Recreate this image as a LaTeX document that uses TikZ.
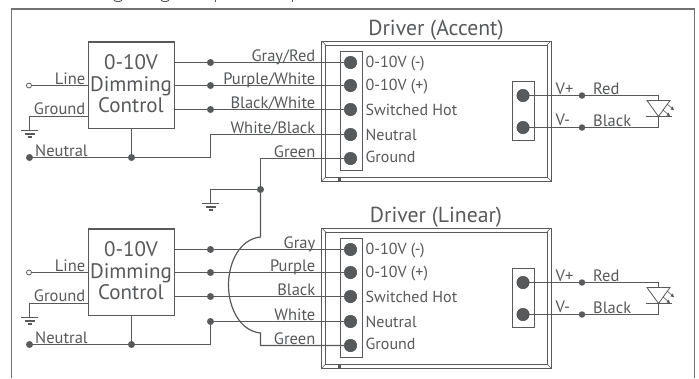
\documentclass[tikz,border=0pt]{standalone}
\usepackage{fontspec}
\setmainfont{PT Sans}
\definecolor{ink}{HTML}{58595B}
\tikzset{
  wire/.style={draw=ink,line width=1.2pt},
  framebox/.style={draw=ink!85,line width=1.4pt},
  jdot/.style={circle,fill=ink,inner sep=0pt,minimum size=7pt},
  term/.style={circle,fill=ink,draw=ink!80!black,inner sep=0pt,minimum size=12.5pt},
  opendot/.style={circle,draw=ink,fill=white,line width=.8pt,inner sep=0pt,minimum size=5pt},
  wlabel/.style={text=ink,font=\fontsize{16.5}{16.5}\selectfont,inner sep=0pt},
  dimtext/.style={text=ink,font=\fontsize{21}{21}\selectfont,inner sep=0pt},
  titletext/.style={text=ink,font=\fontsize{21.7}{21.7}\selectfont,inner sep=0pt},
  tlabel/.style={text=ink,font=\fontsize{16}{16}\selectfont,inner sep=0pt},
  boxline/.style={draw=ink,line width=1.5pt},
  thin box/.style={draw=ink,line width=.9pt},
}
\newcommand{\GroundSym}[1]{%
  \draw[wire,shift={(#1)}] (-8.5,0) -- (8.5,0) (-5,3.5) -- (5,3.5) (-2,6.5) -- (2,6.5);}
\newcommand{\DrvUnit}[7]{% prefix, title, labels 1-5
  % driver housing
  \draw[thin box] (321.7,41) rectangle (551,181);
  \draw[thin box] (325.7,45) rectangle (547,177);
  \draw[ink,line width=.5pt] (321.7,41) -- (325.7,45) (551,41) -- (547,45) (321.7,181) -- (325.7,177) (551,181) -- (547,177);
  \fill[ink] (338,178) rectangle (341,181);
  \node[titletext,anchor=base] (#1title) at (436,35.5) {#2};
  % terminal blocks
  \node[draw=ink,line width=.9pt,inner sep=0pt,minimum width=22pt,minimum height=119pt] (#1blockA) at (351,111) {};
  \node[draw=ink,line width=.9pt,inner sep=0pt,minimum width=22pt,minimum height=59.5pt] (#1blockB) at (523,111) {};
  \node[term] (#1t1) at (350.5,62.5) {};
  \node[term] (#1t2) at (350.5,85.5) {};
  \node[term] (#1t3) at (350.5,109.5) {};
  \node[term] (#1t4) at (350.5,134.5) {};
  \node[term] (#1t5) at (350.5,158.5) {};
  \node[term] (#1o1) at (523,95.5) {};
  \node[term] (#1o2) at (523,127.5) {};
  \node[tlabel,anchor=base west] (#1n1) at (365.5,67.7) {0-10V (-)};
  \node[tlabel,anchor=base west] (#1n2) at (365.5,90) {0-10V (+)};
  \node[tlabel,anchor=base west] (#1n3) at (365.5,115) {Switched Hot};
  \node[tlabel,anchor=base west] (#1n4) at (365.5,140) {Neutral};
  \node[tlabel,anchor=base west] (#1n5) at (365.5,162.7) {Ground};
  % dimming control
  \node[boxline,inner sep=0pt,minimum width=86pt,minimum height=86.5pt] (#1dim) at (131.5,85) {};
  \node[dimtext,anchor=base] (#1d1) at (131,69) {0-10V};
  \node[dimtext,anchor=base] (#1d2) at (131,91) {Dimming};
  \node[dimtext,anchor=base] (#1d3) at (131,112) {Control};
  % control wires
  \node[jdot] (#1j1) at (210.5,62.5) {};
  \node[jdot] (#1j2) at (210.5,85.5) {};
  \node[jdot] (#1j3) at (210.5,109.5) {};
  \draw[wire] (#1dim.east |- #1t1) -- (#1j1) -- (#1t1);
  \draw[wire] (#1dim.east |- #1t2) -- (#1j2) -- (#1t2);
  \draw[wire] (#1dim.east |- #1t3) -- (#1j3) -- (#1t3);
  \node[wlabel,anchor=base east] (#1w1) at (315.5,61.5) {#3};
  \node[wlabel,anchor=base east] (#1w2) at (315.5,84) {#4};
  \node[wlabel,anchor=base east] (#1w3) at (315.5,108) {#5};
  \node[wlabel,anchor=base east] (#1w4) at (315.5,133) {#6};
  \node[wlabel,anchor=base east] (#1w5) at (315.5,157) {#7};
  % line, ground, neutral
  \node[opendot] (#1line) at (29,85.5) {};
  \draw[wire] (#1line) -- (#1dim.west |- #1line);
  \node[wlabel,anchor=base east] (#1ll) at (85.5,84) {Line};
  \node[wlabel,anchor=base east] (#1lg) at (85.5,114.5) {Ground};
  \node[wlabel,anchor=base west] (#1ln) at (35,156) {Neutral};
  \coordinate (#1gtop) at (29.5,130.5);
  \draw[wire] (88.5,116.5) -- (29.5,116.5) -- (#1gtop);
  \GroundSym{#1gtop}
  \node[jdot] (#1nfree) at (29.5,157.5) {};
  \node[jdot] (#1nj) at (131.5,157.5) {};
  \draw[wire] (#1dim.south) -- (#1nj);
  \draw[wire] (#1nfree) -- (#1nj);
  % LED output
  \node[jdot,minimum size=6.5pt] (#1p) at (582,95.5) {};
  \node[jdot,minimum size=6.5pt] (#1m) at (582,127.5) {};
  \coordinate (#1ledt) at (658.5,100.5);
  \coordinate (#1ledb) at (658.5,116.5);
  \draw[wire] (#1o1) -- (#1p) -- (#1ledt |- #1p) -- (#1ledt);
  \draw[wire] (#1o2) -- (#1m) -- (#1ledb |- #1m) -- (#1ledb);
  \draw[wire,line width=.8pt] (647,100.5) -- (670,100.5) -- (#1ledb) -- cycle;
  \draw[wire,line width=.8pt] (645.5,116.5) -- (671.5,116.5);
  \draw[ink,line width=.6pt] (667,104) -- (673,109);
  \fill[ink] (674,110) -- (670.5,109.5) -- (672.5,106.5) -- cycle;
  \draw[ink,line width=.6pt] (663,110) -- (669,115);
  \fill[ink] (670,116) -- (666.5,115.5) -- (668.5,112.5) -- cycle;
  \node[wlabel,anchor=base west] (#1v1) at (555.5,94) {V+};
  \node[wlabel,anchor=base west] (#1v2) at (555.5,125) {V-};
  \node[wlabel,anchor=base west] (#1r) at (593,94) {Red};
  \node[wlabel,anchor=base west] (#1b) at (593,126) {Black};
}
\begin{document}
\begin{tikzpicture}[x=1pt,y=-1pt]
\useasboundingbox (0,0) rectangle (699,378);
\fill[white] (0,0) rectangle (699,378);
% frame open at the bottom
\coordinate (fbl) at (11.5,378);
\coordinate (ftl) at (11.5,8.8);
\coordinate (ftr) at (694.3,8.8);
\coordinate (fbr) at (694.3,378);
\draw[framebox] (fbl) -- (ftl) -- (ftr) -- (fbr);
% descenders of the cropped heading
\draw[ink,line width=.9pt] (114,.3) .. controls (116,2) and (120,2) .. (122,.3);
\draw[ink,line width=.9pt] (161,.3) .. controls (163,2) and (167,2) .. (169,.3);
\draw[ink,line width=.9pt] (215,0) -- (215,1.5);
\draw[ink,line width=.9pt] (292,0) -- (292,1.5);

\DrvUnit{a}{Driver (Accent)}{Gray/Red}{Purple/White}{Black/White}{White/Black}{Green}
\begin{scope}[yshift=-187pt]
\DrvUnit{b}{Driver (Linear)}{Gray}{Purple}{Black}{White}{Green}
\end{scope}

% top unit: neutral to driver
\draw[wire] (anj) -- (210.5,157.5) -- (210.5,134.5) -- (at4);
% top unit: ground
\node[jdot] (gj) at (260.5,189.5) {};
\coordinate (ggnd) at (210.5,203.5);
\draw[wire] (at5) -- (260.5,158.5) -- (gj);
\draw[wire] (gj) -- (210.5,189.5) -- (ggnd);
\GroundSym{ggnd}
% ground jumper arching over the lower unit
\draw[wire] (gj) -- (260.5,237) .. controls (240,239) and (228.5,262) .. (228.5,285)
  .. controls (228.5,308) and (240,331) .. (260.5,333) -- (260.5,345.5) -- (bt5);
% bottom unit: neutral to driver
\node[jdot] (bj4) at (210.5,321.5) {};
\draw[wire] (bj4) -- (bt4);
\draw[wire] (bnj) -- (210.5,344.5) -- (bj4);
\end{tikzpicture}
\end{document}
